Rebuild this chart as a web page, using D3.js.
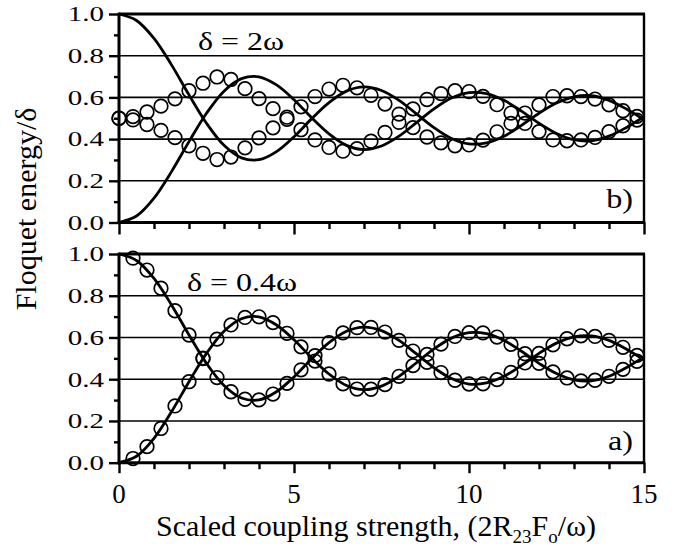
<!DOCTYPE html>
<html><head><meta charset="utf-8">
<script src="https://cdn.jsdelivr.net/npm/d3@7/dist/d3.min.js"></script>
<style>body{margin:0;background:#fff}svg{display:block}</style>
</head><body>
<script>
// ---- data ----
const xLine = [0,0.5,1,1.5,2,2.5,3,3.5,4,4.5,5,5.5,6,6.5,7,7.5,8,8.5,9,9.5,10,10.5,11,11.5,12,12.5,13,13.5,14,14.5,15];
const lineFromOne = [1.000,0.969,0.883,0.756,0.612,0.476,0.370,0.310,0.301,0.340,0.411,0.497,0.575,0.630,0.650,0.633,0.586,0.521,0.455,0.403,0.377,0.382,0.414,0.466,0.524,0.573,0.603,0.608,0.586,0.544,0.493];
const lineFromZero = [0.000,0.031,0.117,0.244,0.388,0.524,0.630,0.690,0.699,0.660,0.589,0.503,0.425,0.370,0.350,0.367,0.414,0.479,0.545,0.597,0.623,0.618,0.586,0.534,0.476,0.427,0.397,0.392,0.414,0.456,0.507];

// panel b) delta = 2 omega, open circles
const xCircTop = [0,0.4,0.8,1.2,1.6,2.0,2.4,2.8,3.2,3.6,4.0,4.4,4.8,5.2,5.6,6.0,6.4,6.8,7.2,7.6,8.0,8.4,8.8,9.2,9.6,10.0,10.4,10.8,11.2,11.6,12.0,12.4,12.8,13.2,13.6,14.0,14.4,14.8];
const topCircUpper = [0.500,0.508,0.530,0.558,0.593,0.632,0.668,0.698,0.686,0.642,0.594,0.546,0.505,0.555,0.604,0.640,0.658,0.646,0.610,0.568,0.520,0.545,0.590,0.618,0.632,0.628,0.605,0.565,0.525,0.525,0.564,0.604,0.608,0.604,0.592,0.564,0.536,0.509];
const topCircLower = [0.500,0.492,0.470,0.442,0.407,0.368,0.332,0.302,0.314,0.358,0.406,0.454,0.495,0.445,0.396,0.360,0.342,0.354,0.390,0.432,0.480,0.455,0.410,0.382,0.368,0.372,0.395,0.435,0.475,0.475,0.436,0.396,0.392,0.396,0.408,0.436,0.464,0.491];

// panel a) delta = 0.4 omega, open circles
const xCircBot = [0.4,0.8,1.2,1.6,2.0,2.4,2.8,3.2,3.6,4.0,4.4,4.8,5.2,5.6,6.0,6.4,6.8,7.2,7.6,8.0,8.4,8.8,9.2,9.6,10.0,10.4,10.8,11.2,11.6,12.0,12.4,12.8,13.2,13.6,14.0,14.4,14.8];
const botCircA = [0.980,0.923,0.836,0.728,0.612,0.501,0.408,0.340,0.304,0.301,0.329,0.380,0.445,0.513,0.575,0.622,0.647,0.648,0.626,0.586,0.535,0.481,0.432,0.395,0.377,0.378,0.398,0.433,0.478,0.524,0.565,0.594,0.608,0.605,0.586,0.553,0.514];
const botCircB = [0.020,0.077,0.164,0.272,0.388,0.499,0.592,0.660,0.696,0.699,0.671,0.620,0.555,0.487,0.425,0.378,0.353,0.352,0.374,0.414,0.465,0.519,0.568,0.605,0.623,0.622,0.602,0.567,0.522,0.476,0.435,0.406,0.392,0.395,0.414,0.447,0.486];

const yMajor = [0,0.2,0.4,0.6,0.8,1.0];
const yMinor = [0.1,0.3,0.5,0.7,0.9];
const xMajor = [0,5,10,15];
const xMinor = [1,2,3,4,6,7,8,9,11,12,13,14];
const gridVals = [0.2,0.4,0.6,0.8];

const panels = [
  {label:"b)", note:"δ = 2ω", top:14, bottom:222.5, cx:xCircTop, c1:topCircUpper, c2:topCircLower, showX:false, noteX:198, noteY:49.5, tagY:208},
  {label:"a)", note:"δ = 0.4ω", top:254, bottom:462.7, cx:xCircBot, c1:botCircA, c2:botCircB, showX:true, noteX:187, noteY:291, tagY:450}
];

// ---- drawing ----
const W = 681, H = 550;
const FONT = "Liberation Serif";
const svg = d3.select("body").append("svg").attr("width",W).attr("height",H);

const x = d3.scaleLinear().domain([0,15]).range([119,644]);

panels.forEach(p => {
  const y = d3.scaleLinear().domain([0,1]).range([p.bottom,p.top]);
  const g = svg.append("g");

  // gridlines
  g.selectAll("line.grid").data(gridVals).join("line")
    .attr("x1",x(0)).attr("x2",x(15)).attr("y1",d=>y(d)).attr("y2",d=>y(d))
    .attr("stroke","#000").attr("stroke-width",1.6);

  // frame: top and right
  g.append("line").attr("x1",x(0)).attr("x2",x(15)+1).attr("y1",y(1)).attr("y2",y(1))
    .attr("stroke","#000").attr("stroke-width",2.8);
  g.append("line").attr("x1",x(15)).attr("x2",x(15)).attr("y1",y(1)).attr("y2",y(0))
    .attr("stroke","#000").attr("stroke-width",2.4);

  // solid curves
  const line = d3.line().x(d=>x(d[0])).y(d=>y(d[1])).curve(d3.curveCatmullRom);
  [lineFromOne,lineFromZero].forEach(arr => {
    g.append("path").datum(xLine.map((v,i)=>[v,arr[i]])).attr("d",line)
      .attr("fill","none").attr("stroke","#000").attr("stroke-width",2.8);
  });

  // circles
  [p.c1,p.c2].forEach(arr => {
    g.selectAll(null).data(p.cx.map((v,i)=>[v,arr[i]])).join("circle")
      .attr("cx",d=>x(d[0])).attr("cy",d=>y(d[1])).attr("r",6.8)
      .attr("fill","none").attr("stroke","#000").attr("stroke-width",1.7);
  });

  // y axis: minor then major
  const yMinAx = d3.axisLeft(y).tickValues(yMinor).tickSize(5).tickFormat("");
  const yMajAx = d3.axisLeft(y).tickValues(yMajor).tickSize(10).tickFormat("");
  [yMinAx,yMajAx].forEach(ax => {
    const a = g.append("g").attr("transform",`translate(${x(0)},0)`).call(ax);
    a.select(".domain").remove();
    a.selectAll("line").attr("stroke","#000").attr("stroke-width",2.4);
  });
  g.append("line").attr("x1",x(0)).attr("x2",x(0)).attr("y1",y(1)-1.4).attr("y2",y(0)+1.5)
    .attr("stroke","#000").attr("stroke-width",3);
  // y tick labels (horizontally widened as in the original)
  g.selectAll("text.ytl").data(yMajor).join("text")
    .attr("transform",d=>`translate(104,${y(d)}) scale(1.38,1)`)
    .attr("text-anchor","end").attr("dy","0.35em").attr("font-family",FONT)
    .attr("font-size",21).text(d=>d3.format(".1f")(d));

  // x axis
  const xMinAx = d3.axisBottom(x).tickValues(xMinor).tickSize(6.5).tickFormat("");
  const xMajAx = d3.axisBottom(x).tickValues(xMajor).tickSize(p.showX?10.5:12).tickFormat("");
  [xMinAx,xMajAx].forEach(ax => {
    const a = g.append("g").attr("transform",`translate(0,${y(0)})`).call(ax);
    a.select(".domain").remove();
    a.selectAll("line").attr("stroke","#000").attr("stroke-width",2.4);
  });
  g.append("line").attr("x1",x(0)-1.5).attr("x2",x(15)+1.2).attr("y1",y(0)).attr("y2",y(0))
    .attr("stroke","#000").attr("stroke-width",3);
  if (p.showX) {
    g.selectAll("text.xtl").data(xMajor).join("text")
      .attr("x",d=>x(d)).attr("y",503).attr("text-anchor","middle").attr("font-family",FONT)
      .attr("font-size",27).text(d=>d);
  }

  // annotations
  g.append("text").attr("transform",`translate(${p.noteX},${p.noteY}) scale(1.28,1)`)
    .attr("font-family",FONT).attr("font-size",25).text(p.note);
  g.append("text").attr("transform",`translate(633,${p.tagY}) scale(1.15,1)`)
    .attr("text-anchor","end").attr("font-family",FONT).attr("font-size",28).text(p.label);
});

// axis titles
const xt = svg.append("text").attr("x",156).attr("y",536).attr("font-family",FONT).attr("font-size",30);
xt.append("tspan").text("Scaled coupling strength, (2R");
xt.append("tspan").attr("dy",7).attr("font-size",19).text("23");
xt.append("tspan").attr("dy",-7).text("F");
xt.append("tspan").attr("dy",7).attr("font-size",19).text("o");
xt.append("tspan").attr("dy",-7).text("/ω)");

svg.append("text").attr("transform","translate(36,209) rotate(-90)").attr("font-family",FONT)
  .attr("text-anchor","middle").attr("font-size",30).text("Floquet energy/δ");
</script>
</body></html>
